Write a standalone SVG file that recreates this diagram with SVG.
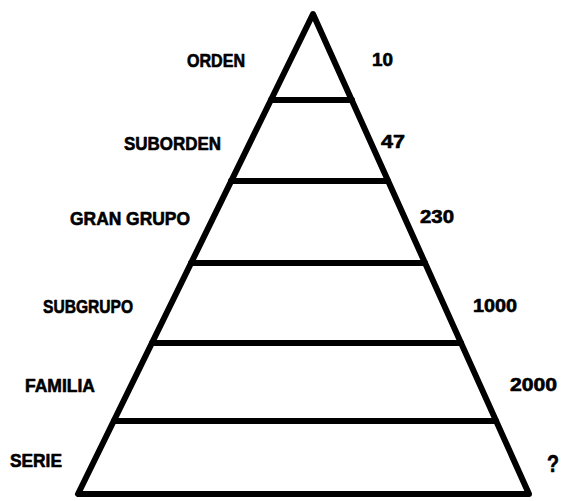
<svg xmlns="http://www.w3.org/2000/svg" width="565" height="501" viewBox="0 0 565 501">
<style>
.t{font-family:"Liberation Sans",Arial,sans-serif;font-weight:bold;font-size:18px;fill:#000;stroke:#000;stroke-width:0.6;stroke-linejoin:round}
.s{stroke:#000;stroke-width:6;fill:none;stroke-linejoin:round;stroke-linecap:round}
</style>
<rect width="565" height="501" fill="#fff"/>
<g id="pyramid">
<polygon class="s" points="313,14 78,494 529,494"/>
</g>
<g id="connectors">
<line class="s" x1="271" y1="100" x2="352" y2="100"/>
<line class="s" x1="231" y1="181" x2="388" y2="181"/>
<line class="s" x1="191" y1="263" x2="425" y2="263"/>
<line class="s" x1="152" y1="343" x2="461" y2="343"/>
<line class="s" x1="114" y1="421" x2="496" y2="421"/>
</g>
<g id="orden"><text class="t" x="187" y="67" textLength="58" lengthAdjust="spacingAndGlyphs">ORDEN</text><text class="t" x="372" y="66" textLength="21" lengthAdjust="spacingAndGlyphs">10</text></g>
<g id="suborden"><text class="t" x="124" y="150" textLength="97" lengthAdjust="spacingAndGlyphs">SUBORDEN</text><text class="t" x="381" y="148" textLength="24" lengthAdjust="spacingAndGlyphs">47</text></g>
<g id="grangrupo"><text class="t" x="70" y="225" textLength="120" lengthAdjust="spacingAndGlyphs">GRAN  GRUPO</text><text class="t" x="420" y="223" textLength="34" lengthAdjust="spacingAndGlyphs">230</text></g>
<g id="subgrupo"><text class="t" x="43" y="313" textLength="90" lengthAdjust="spacingAndGlyphs">SUBGRUPO</text><text class="t" x="473" y="312" textLength="44" lengthAdjust="spacingAndGlyphs">1000</text></g>
<g id="familia"><text class="t" x="25" y="392" textLength="70" lengthAdjust="spacingAndGlyphs">FAMILIA</text><text class="t" x="510" y="391" textLength="47" lengthAdjust="spacingAndGlyphs">2000</text></g>
<g id="serie"><text class="t" x="10" y="467" textLength="52" lengthAdjust="spacingAndGlyphs">SERIE</text><text class="t" x="547" y="472" textLength="12" lengthAdjust="spacingAndGlyphs" style="font-size:24px">?</text></g>
</svg>
